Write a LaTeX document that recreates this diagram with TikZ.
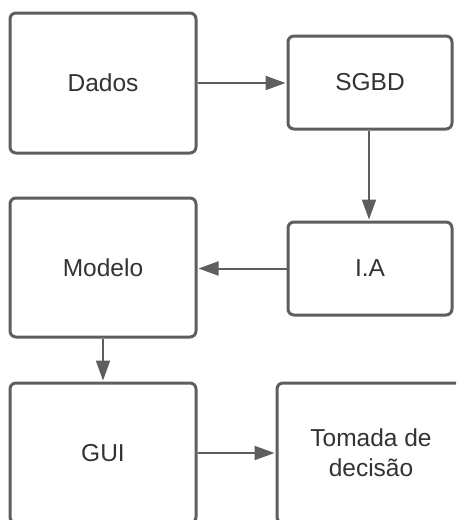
\documentclass[tikz,border=0pt]{standalone}
\usepackage{fontspec}
\setmainfont{Liberation Sans}
\usetikzlibrary{arrows.meta}
\definecolor{edgegray}{RGB}{94,94,94}
\definecolor{inkgray}{RGB}{51,51,51}
\tikzset{
  blockbox/.style={draw=edgegray, line width=3pt, rounded corners=6pt,
    fill=white, text=inkgray, align=center, inner sep=0pt,
    font=\fontsize{24.5}{30}\selectfont},
  flow/.style={draw=edgegray, line width=2pt,
    -{Triangle[length=20pt,width=14pt]}, shorten >=1pt}
}
\begin{document}
\begin{tikzpicture}[x=1pt,y=-1pt]
  \useasboundingbox (0,0) rectangle (456,520);
  \clip (0,0) rectangle (456,520);
  \fill[white] (0,0) rectangle (456,520);

  \node[blockbox, minimum width=186pt, minimum height=140pt] (dados) at (103,83) {Dados};
  \node[blockbox, minimum width=164pt, minimum height=93pt] (sgbd) at (370,82.5) {SGBD};
  \node[blockbox, minimum width=164pt, minimum height=93pt] (ia) at (370,268.5) {I.A};
  \node[blockbox, minimum width=186pt, minimum height=139pt] (modelo) at (103,267.5) {Modelo};
  \node[blockbox, minimum width=186pt, minimum height=140pt] (gui) at (103,453) {GUI};
  \node[blockbox, minimum width=188pt, minimum height=140pt] (tomada) at (371,453) {Tomada de\\decisão};

  \draw[flow] (dados.east) -- (dados.east -| sgbd.west);
  \draw[flow] (sgbd.south -| 369,0) -- (ia.north -| 369,0);
  \draw[flow] (ia.west) -- (ia.west -| modelo.east);
  \draw[flow] (modelo.south) -- (gui.north);
  \draw[flow] (gui.east) -- (gui.east -| tomada.west);
\end{tikzpicture}
\end{document}
